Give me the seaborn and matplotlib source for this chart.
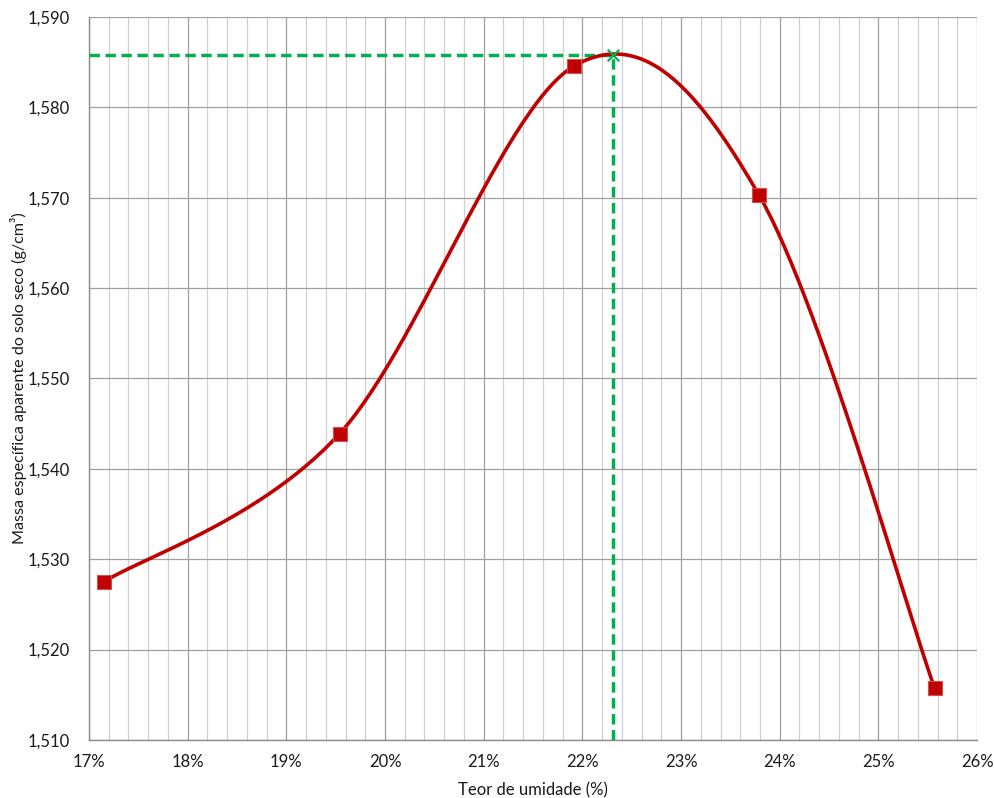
import numpy as np
import pandas as pd
import matplotlib
matplotlib.use("Agg")
import matplotlib.pyplot as plt
import matplotlib.ticker as mticker
import seaborn as sns

# ensaio de compactação
umidade = [17.15, 19.54, 21.92, 23.79, 25.57]          # %
massa_esp = [1.5275, 1.5439, 1.5846, 1.5703, 1.5157]  # g/cm3
umidade_otima = 22.31
massa_max = 1.5858

sns.set_theme(style="white")
plt.rcParams["font.family"] = ["Lato", "DejaVu Sans"]


def suavizar(x, y, n=60):
    # linha suavizada tipo Excel (Catmull-Rom -> Bezier)
    px = np.r_[x[0], x, x[-1]]
    py = np.r_[y[0], y, y[-1]]
    xs, ys = [], []
    t = np.linspace(0, 1, n)
    for i in range(1, len(px) - 2):
        p0 = np.array([px[i], py[i]])
        p3 = np.array([px[i + 1], py[i + 1]])
        c1 = p0 + (np.array([px[i + 1], py[i + 1]]) - np.array([px[i - 1], py[i - 1]])) / 6
        c2 = p3 - (np.array([px[i + 2], py[i + 2]]) - np.array([px[i], py[i]])) / 6
        b = ((1 - t) ** 3)[:, None] * p0 + (3 * (1 - t) ** 2 * t)[:, None] * c1 \
            + (3 * (1 - t) * t ** 2)[:, None] * c2 + (t ** 3)[:, None] * p3
        xs.extend(b[:, 0])
        ys.extend(b[:, 1])
    return pd.DataFrame({"x": xs, "y": ys})


curva = suavizar(umidade, massa_esp)
pontos = pd.DataFrame({"x": umidade, "y": massa_esp})

fig = plt.figure(figsize=(9.94, 7.98), dpi=100)
ax = fig.add_axes([0.0895, 0.0727, 0.8935, 0.906])

ax.set_xlim(17, 26)
ax.set_ylim(1.510, 1.590)
ax.xaxis.set_major_locator(mticker.MultipleLocator(1))
ax.xaxis.set_minor_locator(mticker.MultipleLocator(0.2))
ax.yaxis.set_major_locator(mticker.MultipleLocator(0.01))
ax.xaxis.set_major_formatter(mticker.FuncFormatter(lambda v, p: f"{v:.0f}%"))
ax.yaxis.set_major_formatter(mticker.FuncFormatter(lambda v, p: f"{v:.3f}".replace(".", ",")))

ax.grid(which="minor", axis="x", color="#d0d0d0", linewidth=0.9)
ax.grid(which="major", color="#a0a0a0", linewidth=0.9)
ax.set_axisbelow(True)

for s in ["top", "right"]:
    ax.spines[s].set_visible(False)
for s in ["left", "bottom"]:
    ax.spines[s].set_color("#8c8c8c")
    ax.spines[s].set_linewidth(1.0)
ax.tick_params(which="major", direction="out", length=5, width=1, color="#8c8c8c",
               labelsize=12, labelcolor="#1a1a1a", pad=5)
ax.tick_params(which="minor", length=0)
ax.tick_params(axis="y", pad=9)

# linhas de umidade ótima
ax.plot([17, umidade_otima], [massa_max, massa_max], color="#00b050", lw=2.5,
        ls=(0, (3, 1.6)), zorder=3)
ax.plot([umidade_otima, umidade_otima], [1.510, massa_max], color="#00b050", lw=2.5,
        ls=(0, (3, 1.6)), zorder=3)

sns.lineplot(data=curva, x="x", y="y", sort=False, color="#c00000", lw=2.6, ax=ax, zorder=4)
sns.scatterplot(data=pontos, x="x", y="y", marker="s", s=110, color="#c00000",
                edgecolor="#d05050", linewidth=0.8, ax=ax, zorder=5)
ax.scatter([umidade_otima], [massa_max], marker="x", s=70, color="#00b050", lw=1.5, zorder=6)

ax.set_xlabel("Teor de umidade (%)", fontsize=12, color="#1a1a1a", labelpad=9)
ax.set_ylabel("Massa específica aparente do solo seco (g/cm³)", fontsize=11.6, color="#1a1a1a")
ax.yaxis.set_label_coords(-0.070, 0.5)

fig.savefig("out.png", dpi=100)
